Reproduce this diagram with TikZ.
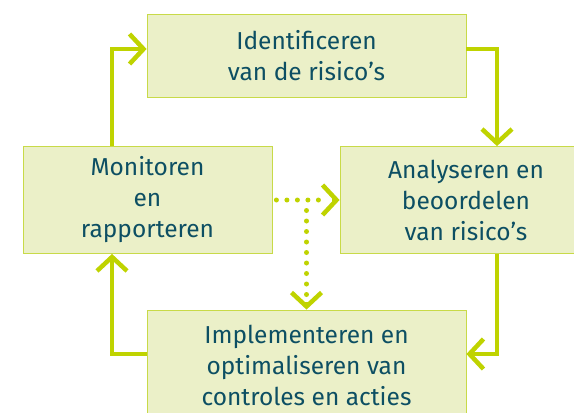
\documentclass[tikz,border=0pt]{standalone}
\usepackage{fontspec}
\setmainfont{Fira Sans}
\usetikzlibrary{arrows.meta}
\definecolor{lime}{HTML}{BFD300}
\definecolor{boxfill}{HTML}{EBF0C8}
\definecolor{boxline}{HTML}{C8DA48}
\definecolor{txt}{HTML}{0D4F63}
\tikzset{
  stepbox/.style={draw=boxline, line width=0.8pt, fill=boxfill, text=txt,
    font=\fontsize{24.5}{31}\selectfont, align=center, inner sep=0pt},
  flow/.style={draw=lime, line width=4.5pt,
    -{Straight Barb[length=14pt, width=30pt, line width=4.5pt]}},
  dotflow/.style={draw=lime, line width=5pt, line cap=round,
    dash pattern=on 0pt off 10.5pt},
  dottip/.style={draw=lime, line width=4.5pt,
    -{Straight Barb[length=14pt, width=30pt, line width=4.5pt]}},
}
\begin{document}
\begin{tikzpicture}[x=1pt, y=-1pt]
\useasboundingbox (0,0) rectangle (574,413);
\node[stepbox, minimum width=319pt, minimum height=83pt] (id) at (306.5,55.5) {Identificeren\\van de risico’s};
\node[stepbox, minimum width=252pt, minimum height=107pt] (an) at (466,200) {Analyseren en\\beoordelen\\van risico’s};
\node[stepbox, minimum width=319pt, minimum height=110pt] (im) at (306.5,365) {Implementeren en\\optimaliseren van\\controles en acties};
\node[stepbox, minimum width=249pt, minimum height=107pt] (mo) at (147.5,200) {Monitoren\\en\\rapporteren};
\coordinate (c1) at (112,49);
\coordinate (c2) at (497,49);
\coordinate (c3) at (497,354);
\coordinate (c4) at (112,354);
\draw[flow] (mo.north -| c1) -- (c1) -- (c1 -| id.west);
\draw[flow] (c2 -| id.east) -- (c2) -- (c2 |- an.north);
\draw[flow] (an.south -| c3) -- (c3) -- (c3 -| im.east);
\draw[flow] (c4 -| im.west) -- (c4) -- (c4 |- mo.south);
\coordinate (j) at (mo.east -| im.north);
\draw[dotflow] ([xshift=4pt]mo.east) -- ([xshift=-12pt]an.west);
\draw[dotflow] ([yshift=-10.5pt]j) -- ([yshift=12pt]im.north);
\draw[dottip] ([xshift=-8pt]an.west) -- (an.west);
\draw[dottip] ([yshift=8pt]im.north) -- (im.north);
\end{tikzpicture}
\end{document}
